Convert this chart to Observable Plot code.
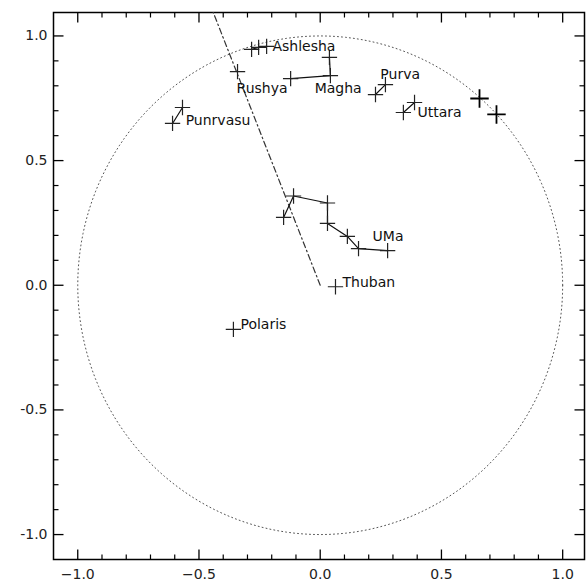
<!DOCTYPE html>
<html>
<head>
<meta charset="utf-8">
<script src="https://cdn.jsdelivr.net/npm/d3@7"></script>
<script src="https://cdn.jsdelivr.net/npm/@observablehq/plot@0.6"></script>
<style>
  html, body { margin: 0; padding: 0; background: #fff; }
  #chart svg { font-family: 'DejaVu Sans', sans-serif; font-size: 14px; color: #000; }
</style>
</head>
<body>
<div id="chart"></div>
<script>
// ---- data ----
const ashleshaX = [-0.283, -0.254, -0.221];
const ashleshaY = [0.946, 0.954, 0.958];
const rushyaX = [-0.341];
const rushyaY = [0.857];
const maghaX = [-0.122, 0.042, 0.038];
const maghaY = [0.829, 0.841, 0.914];
const purvaX = [0.228, 0.269];
const purvaY = [0.765, 0.805];
const uttaraX = [0.343, 0.389];
const uttaraY = [0.693, 0.733];
const punrvasuX = [-0.609, -0.568];
const punrvasuY = [0.649, 0.713];
const umaX = [-0.151, -0.110, 0.030, 0.030, 0.112, 0.158, 0.278];
const umaY = [0.272, 0.358, 0.330, 0.248, 0.196, 0.147, 0.139];
const thubanX = [0.063];
const thubanY = [-0.006];
const polarisX = [-0.358];
const polarisY = [-0.177];
const rimX = [0.657, 0.727];
const rimY = [0.749, 0.685];

const trackX = [0, -0.441];
const trackY = [0, 1.094];

const labelNames = ["Ashlesha", "Rushya", "Magha", "Purva", "Uttara", "Punrvasu", "UMa", "Thuban", "Polaris"];
const labelX = [-0.197, -0.345, -0.023, 0.248, 0.401, -0.555, 0.216, 0.092, -0.329];
const labelY = [0.958, 0.789, 0.789, 0.845, 0.693, 0.661, 0.196, 0.011, -0.157];

const majorTicks = [-1.0, -0.5, 0.0, 0.5, 1.0];
const minorTicks = [-0.9, -0.8, -0.7, -0.6, -0.4, -0.3, -0.2, -0.1, 0.1, 0.2, 0.3, 0.4, 0.6, 0.7, 0.8, 0.9];
const circleRadius = 1.0;

// ---- build tables ----
const pts = (xs, ys) => xs.map((x, i) => ({x, y: ys[i]}));
const groups = [
  pts(ashleshaX, ashleshaY), pts(rushyaX, rushyaY), pts(maghaX, maghaY),
  pts(purvaX, purvaY), pts(uttaraX, uttaraY), pts(punrvasuX, punrvasuY),
  pts(umaX, umaY), pts(thubanX, thubanY), pts(polarisX, polarisY)
];
const allStars = groups.flat();
const rim = pts(rimX, rimY);
const track = pts(trackX, trackY);
const labels = labelNames.map((name, i) => ({name, x: labelX[i], y: labelY[i]}));
const circle = d3.range(0, 361, 2).map(a => ({
  x: circleRadius * Math.cos(a * Math.PI / 180),
  y: circleRadius * Math.sin(a * Math.PI / 180)
}));

const W = 587, H = 583;
const mL = 53, mR = 3, mT = 12, mB = 24;
const xDom = [-1.1, 1.09], yDom = [-1.1, 1.094];

// tick glyphs: a short segment pointing into the frame
const seg = (dx, dy) => ({draw(ctx) { ctx.moveTo(0, 0); ctx.lineTo(dx, dy); }});
const edgeTicks = (ticks, len, sw) => [
  Plot.dot(ticks, {x: d => d, y: () => yDom[0], symbol: seg(0, -len), r: 3, fill: "none", stroke: "#000", strokeWidth: sw}),
  Plot.dot(ticks, {x: d => d, y: () => yDom[1], symbol: seg(0, len), r: 3, fill: "none", stroke: "#000", strokeWidth: sw}),
  Plot.dot(ticks, {y: d => d, x: () => xDom[0], symbol: seg(len, 0), r: 3, fill: "none", stroke: "#000", strokeWidth: sw}),
  Plot.dot(ticks, {y: d => d, x: () => xDom[1], symbol: seg(-len, 0), r: 3, fill: "none", stroke: "#000", strokeWidth: sw})
];

const chart = Plot.plot({
  width: W,
  height: H,
  marginLeft: mL,
  marginRight: mR,
  marginTop: mT,
  marginBottom: mB,
  x: {domain: xDom, axis: null, label: null},
  y: {domain: yDom, axis: null, label: null},
  marks: [
    Plot.frame({stroke: "#000", strokeWidth: 1.5, fill: "none"}),
    // dotted unit circle
    Plot.line(circle, {x: "x", y: "y", stroke: "#555", strokeWidth: 1, strokeDasharray: "1,3"}),
    // dash-dot track
    Plot.line(track, {x: "x", y: "y", stroke: "#333", strokeWidth: 1.2, strokeDasharray: "6,3,1.5,3"}),
    // asterism connecting lines
    ...groups.filter(g => g.length > 1).map(g =>
      Plot.line(g, {x: "x", y: "y", stroke: "#111", strokeWidth: 1.2})
    ),
    // stars
    Plot.dot(allStars, {x: "x", y: "y", symbol: "plus", r: 5, stroke: "#222", strokeWidth: 1.2}),
    Plot.dot(rim, {x: "x", y: "y", symbol: "plus", r: 6, stroke: "#000", strokeWidth: 1.8}),
    // labels
    Plot.text(labels, {x: "x", y: "y", text: "name", textAnchor: "start", lineAnchor: "middle", fill: "#111", fontSize: 14}),
    // axis labels
    Plot.axisX(majorTicks, {anchor: "bottom", tickSize: 0, tickPadding: 10, fontSize: 14, fill: "#222", label: null,
      tickFormat: d => d.toFixed(1).replace("-", "\u2212")}),
    Plot.axisY(majorTicks, {anchor: "left", tickSize: 0, tickPadding: 6, fontSize: 14, fill: "#222", label: null,
      tickFormat: d => d.toFixed(1)}),
    // inward ticks on all four sides
    ...edgeTicks(majorTicks, 10, 1.3),
    ...edgeTicks(minorTicks, 5, 1.2)
  ]
});
document.getElementById("chart").appendChild(chart);
</script>
</body>
</html>
